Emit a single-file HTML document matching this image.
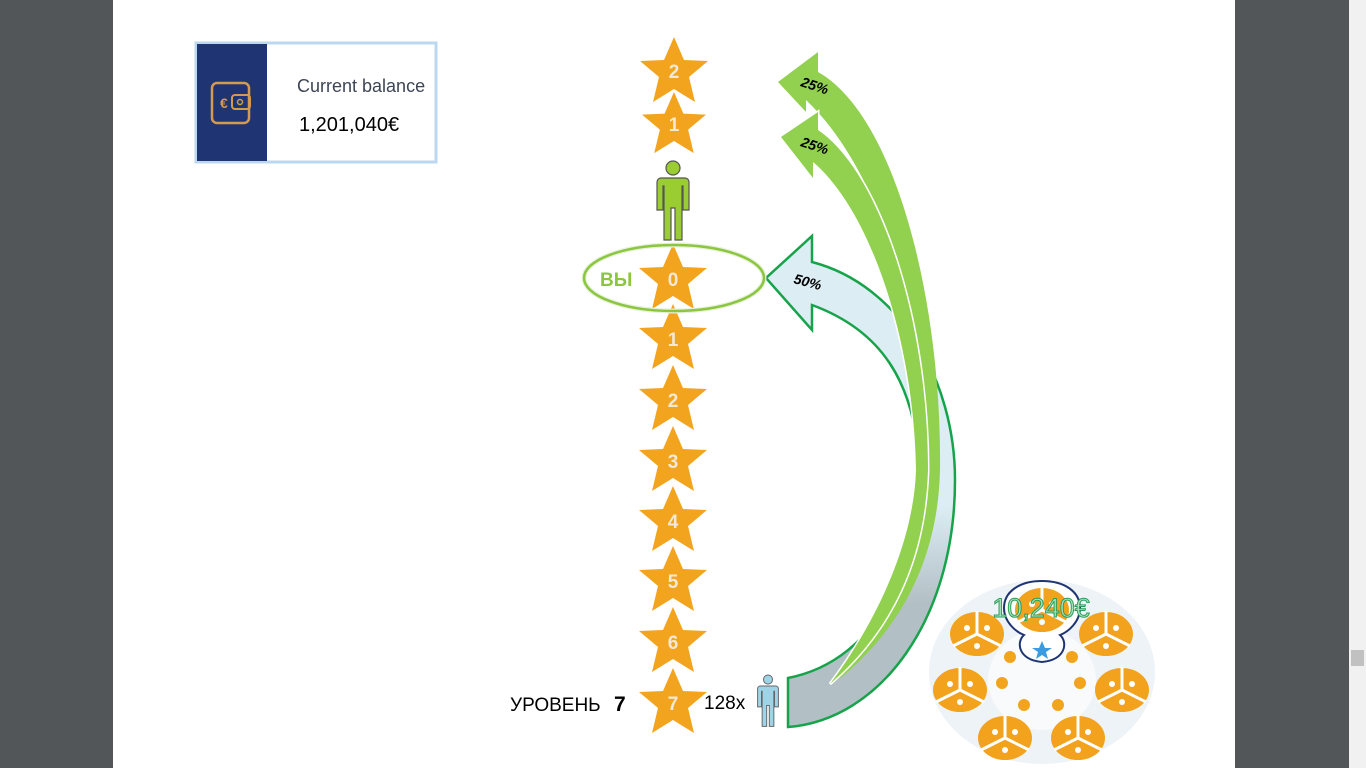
<!DOCTYPE html>
<html><head><meta charset="utf-8"><style>
html,body{margin:0;padding:0;width:1366px;height:768px;overflow:hidden;background:#525659;}
svg{position:absolute;left:0;top:0}
</style></head><body>
<svg width="1366" height="768" viewBox="0 0 1366 768" xmlns="http://www.w3.org/2000/svg">
<defs>
<symbol id="st" viewBox="-35 -34 70 68"><polygon points="0,-34 10,-11 34,-10 15,6 21,31 0,18 -21,31 -15,6 -34,-10 -10,-11" fill="#f3a41f"/></symbol>
<linearGradient id="bg" x1="0" y1="0" x2="0" y2="1"><stop offset="0.55" stop-color="#dcedf4"/><stop offset="0.75" stop-color="#b2bfc5"/></linearGradient>
<g id="pie"><ellipse cx="0" cy="0" rx="27" ry="22" fill="#f2a21d"/><path d="M0,0 L0,-23 M0,0 L-24,12 M0,0 L24,12" stroke="#fff" stroke-width="3"/><g fill="#fff"><circle cx="-10" cy="-6" r="3"/><circle cx="10" cy="-6" r="3"/><circle cx="0" cy="12" r="3"/></g></g>
<symbol id="man" viewBox="0 0 40 82"><circle cx="20" cy="8" r="7"/><path d="M8,18 h24 a4,4 0 0 1 4,4 v28 h-6 v-24 h-1 v54 h-7 v-32 h-4 v32 h-7 v-54 h-1 v24 h-6 v-28 a4,4 0 0 1 4,-4z"/></symbol>
</defs>
<rect x="113" y="0" width="1122" height="768" fill="#fff"/>
<rect x="1349" y="0" width="17" height="768" fill="#f1f1f1"/>
<rect x="1351" y="650" width="13" height="16" fill="#c1c1c1"/>
<!-- wallet -->
<rect x="196" y="43" width="240" height="119" fill="#fff" stroke="#bcd8f0" stroke-width="3"/>
<rect x="197" y="44" width="70" height="117" fill="#1f3573"/>
<rect x="212" y="83" width="37" height="40" rx="5" fill="none" stroke="#d59a52" stroke-width="2.5"/>
<rect x="232" y="95" width="18" height="14" rx="3" fill="none" stroke="#d59a52" stroke-width="2"/>
<circle cx="240" cy="102" r="2.5" fill="none" stroke="#d59a52" stroke-width="1.5"/>
<text x="220" y="108" font-family="Liberation Sans,sans-serif" font-size="14" font-weight="bold" fill="#d59a52">€</text>
<text x="297" y="92" font-family="Liberation Sans,sans-serif" font-size="18" fill="#3d4555">Current balance</text>
<text x="299" y="131" font-family="Liberation Sans,sans-serif" font-size="20" fill="#000">1,201,040€</text>
<!-- blue/grey arrow -->
<path d="M788,678 C880,660 920,560 920,470 C915,380 880,330 812,305 L812,330 L766,278 L812,236 L812,262 C900,285 955,380 955,480 C955,620 880,720 788,727 Z" fill="url(#bg)" stroke="#17a34a" stroke-width="2.5" stroke-linejoin="miter"/>
<!-- green arrows -->
<path d="M818,52 L818,72 C895,115 942,300 940,470 C938,560 900,630 838,680 C885,620 926,540 928,470 C926,320 880,170 806,100 L806,112 L778,82 Z" fill="#92d050"/>
<path d="M818,112 L818,130 C880,172 928,320 928,470 C925,560 892,630 830,684 C878,620 914,540 916,470 C914,340 870,210 813,162 L813,178 L781,137 Z" fill="#92d050" stroke="#fff" stroke-width="3" stroke-linejoin="miter"/>
<path d="M818,112 L818,130 C880,172 928,320 928,470 C925,560 892,630 830,684 C878,620 914,540 916,470 C914,340 870,210 813,162 L813,178 L781,137 Z" fill="#92d050"/>
<text transform="translate(800,86) rotate(18)" font-family="Liberation Sans,sans-serif" font-size="14" font-weight="bold" font-style="italic">25%</text>
<text transform="translate(800,146) rotate(18)" font-family="Liberation Sans,sans-serif" font-size="14" font-weight="bold" font-style="italic">25%</text>
<text transform="translate(793,283) rotate(15)" font-family="Liberation Sans,sans-serif" font-size="14" font-weight="bold" font-style="italic">50%</text>
<!-- stars -->
<g font-family="Liberation Sans,sans-serif" font-size="19" font-weight="bold" fill="#f3e9d6" text-anchor="middle">
<use href="#st" x="639" y="37" width="70" height="68"/><text x="674" y="78">2</text>
<use href="#st" x="641" y="92" width="66" height="64"/><text x="674" y="131">1</text>
<use href="#st" x="638" y="244" width="70" height="68"/><text x="673" y="286">0</text>
<use href="#st" x="638" y="304" width="70" height="68"/><text x="673" y="346">1</text>
<use href="#st" x="638" y="365" width="70" height="68"/><text x="673" y="407">2</text>
<use href="#st" x="638" y="426" width="70" height="68"/><text x="673" y="468">3</text>
<use href="#st" x="638" y="486" width="70" height="68"/><text x="673" y="528">4</text>
<use href="#st" x="638" y="546" width="70" height="68"/><text x="673" y="588">5</text>
<use href="#st" x="638" y="607" width="70" height="68"/><text x="673" y="649">6</text>
<use href="#st" x="638" y="668" width="70" height="68"/><text x="673" y="710">7</text>
</g>
<ellipse cx="674" cy="278" rx="90" ry="33" fill="none" stroke="#e6f2da" stroke-width="5"/>
<ellipse cx="674" cy="278" rx="90" ry="33" fill="none" stroke="#8cc63f" stroke-width="2.5"/>
<text x="600" y="286" font-family="Liberation Sans,sans-serif" font-size="19" font-weight="bold" fill="#8cc63f">ВЫ</text>
<use href="#man" x="653" y="160" width="40" height="82" fill="#9acd32" stroke="#555" stroke-width="1.2"/>
<use href="#man" x="755" y="672" width="26" height="58" fill="#9fd3e8" stroke="#666" stroke-width="1.5"/>
<text x="510" y="711" font-family="Liberation Sans,sans-serif" font-size="19">УРОВЕНЬ</text>
<text x="614" y="711" font-family="Liberation Sans,sans-serif" font-size="21" font-weight="bold">7</text>
<text x="704" y="709" font-family="Liberation Sans,sans-serif" font-size="19">128x</text>
<!-- bottom right -->
<ellipse cx="1042" cy="672" rx="113" ry="92" fill="#eef3f8"/>
<ellipse cx="1042" cy="680" rx="54" ry="50" fill="#f8fafc"/>
<path d="M1042,581 C1065,581 1080,592 1080,608 C1080,622 1068,632 1060,635 C1068,642 1066,660 1042,662 C1018,660 1016,642 1024,635 C1016,632 1004,622 1004,608 C1004,592 1019,581 1042,581Z" fill="#fff" stroke="#1f3573" stroke-width="2"/>
<use href="#pie" x="1042" y="610"/>
<use href="#pie" x="977" y="634"/><use href="#pie" x="1106" y="634"/>
<use href="#pie" x="960" y="690"/><use href="#pie" x="1122" y="690"/>
<use href="#pie" x="1005" y="738"/><use href="#pie" x="1078" y="738"/>
<polygon points="1042,641 1045,648 1052,648 1046,652 1048,659 1042,655 1036,659 1038,652 1032,648 1039,648" fill="#3b9be0"/>
<g fill="#f3a41f">
<circle cx="1010" cy="657" r="6"/><circle cx="1072" cy="657" r="6"/><circle cx="1002" cy="683" r="6"/><circle cx="1080" cy="683" r="6"/><circle cx="1024" cy="705" r="6"/><circle cx="1058" cy="705" r="6"/>
</g>
<text x="1041" y="617" text-anchor="middle" font-family="Liberation Sans,sans-serif" font-size="27" fill="#a8e6c0" stroke="#2a9d5a" stroke-width="1">10,240€</text>
</svg>
</body></html>
